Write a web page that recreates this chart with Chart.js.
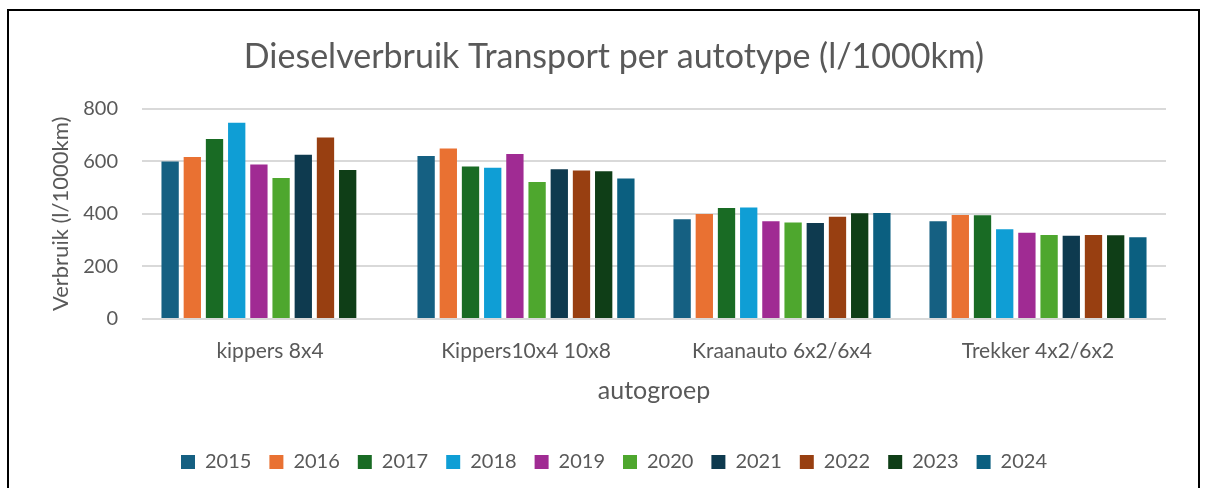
<!DOCTYPE html>
<html>
<head>
<meta charset="utf-8">
<script src="https://cdn.jsdelivr.net/npm/chart.js@4.4.1/dist/chart.umd.min.js"></script>
<style>
  html, body { margin: 0; padding: 0; background: #fff; overflow: hidden; }
  .frame { position: absolute; left: 7px; top: 9px; width: 1189px; height: 600px; border: 2px solid #000; }
  #chart { position: absolute; left: 0; top: 0; }
</style>
</head>
<body>
<div class="frame"></div>
<canvas id="chart" width="1205" height="488"></canvas>
<script>
const categories = ['kippers 8x4', 'Kippers10x4 10x8', 'Kraanauto 6x2/6x4', 'Trekker 4x2/6x2'];
const years = ['2015', '2016', '2017', '2018', '2019', '2020', '2021', '2022', '2023', '2024'];

// l/1000km per year, one value per category
const v2015 = [599, 620, 380, 372];
const v2016 = [617, 649, 400, 396];
const v2017 = [685, 580, 422, 395];
const v2018 = [747, 576, 424, 342];
const v2019 = [588, 628, 372, 328];
const v2020 = [537, 521, 367, 320];
const v2021 = [625, 570, 365, 317];
const v2022 = [691, 565, 389, 320];
const v2023 = [567, 562, 402, 319];
const v2024 = [null, 535, 403, 311];

const yTicks = [0, 200, 400, 600, 800];

const colors = ['#156082', '#E97132', '#196B24', '#0F9ED5', '#A02B93',
                '#4EA72E', '#0E3A4F', '#983F11', '#0F3E17', '#0B5F80'];
const series = [v2015, v2016, v2017, v2018, v2019, v2020, v2021, v2022, v2023, v2024];

const textColor = '#595959';
const font = 'Lato, "Open Sans", sans-serif';

const ctx = document.getElementById('chart').getContext('2d');
new Chart(ctx, {
  type: 'bar',
  data: {
    labels: categories,
    datasets: years.map((y, i) => ({
      label: y,
      data: series[i],
      backgroundColor: colors[i],
      borderWidth: 0,
      categoryPercentage: 0.867,
      barPercentage: 0.78
    }))
  },
  options: {
    responsive: false,
    animation: false,
    layout: { padding: { left: 62, right: 39, top: 0, bottom: 6 } },
    plugins: {
      title: {
        display: true,
        text: 'Dieselverbruik Transport per autotype (l/1000km)',
        color: textColor,
        font: { family: font, size: 34, weight: 'normal' },
        padding: { top: 37, bottom: 31 }
      },
      legend: {
        position: 'bottom',
        labels: {
          color: textColor,
          font: { family: font, size: 20 },
          boxWidth: 14,
          boxHeight: 14,
          padding: 18
        }
      },
      tooltip: { enabled: false }
    },
    scales: {
      x: {
        grid: { display: false, drawTicks: false },
        border: { display: false },
        ticks: { color: textColor, font: { family: font, size: 21 }, padding: 19.4 },
        title: {
          display: true,
          text: 'autogroep',
          color: textColor,
          font: { family: font, size: 25 },
          padding: { top: -7, bottom: 28 }
        }
      },
      y: {
        min: 0,
        max: 800,
        afterFit: (scale) => { scale.width = 80; },
        afterBuildTicks: (scale) => { scale.ticks = yTicks.map(v => ({ value: v })); },
        grid: { color: '#D9D9D9', lineWidth: 2, drawTicks: false },
        border: { display: false },
        ticks: { color: textColor, font: { family: font, size: 20 }, padding: 24 },
        title: {
          display: true,
          text: 'Verbruik (l/1000km)',
          color: textColor,
          font: { family: font, size: 22 },
          padding: { top: -14, bottom: 0 }
        }
      }
    }
  }
});
</script>
</body>
</html>
